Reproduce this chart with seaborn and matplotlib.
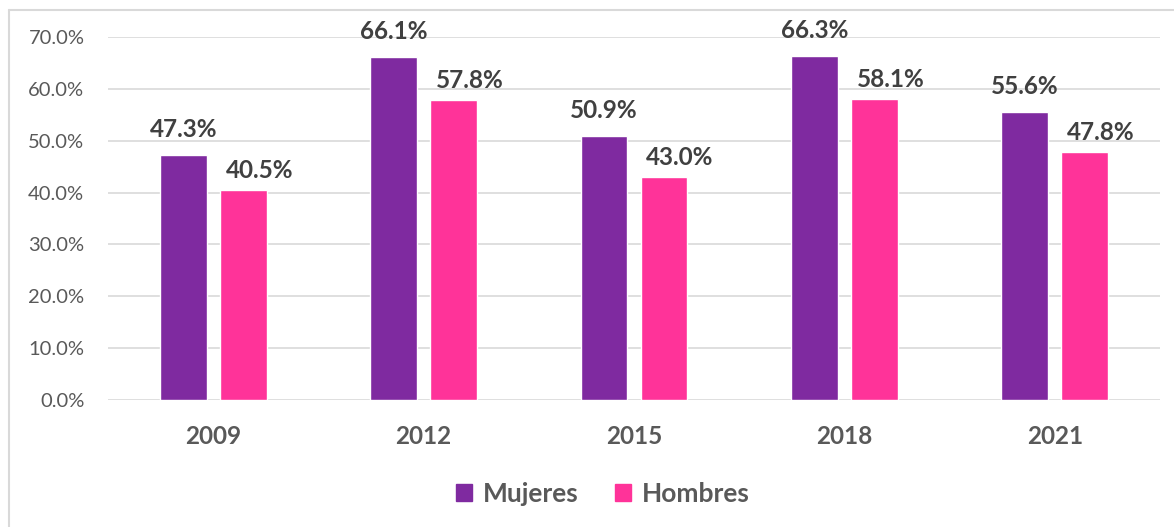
import pandas as pd
import matplotlib.pyplot as plt
import seaborn as sns
from matplotlib.lines import Line2D
from matplotlib.ticker import FuncFormatter

# Values (percent)
years = ["2009", "2012", "2015", "2018", "2021"]
mujeres = [47.3, 66.1, 50.9, 66.3, 55.6]
hombres = [40.5, 57.8, 43.0, 58.1, 47.8]
series = ["Mujeres", "Hombres"]
colors = ["#7F2AA0", "#FF3399"]

df = pd.DataFrame({
    "year": years * 2,
    "value": mujeres + hombres,
    "group": [series[0]] * len(years) + [series[1]] * len(years),
})

sns.set_style("white")
plt.rcParams["font.family"] = ["Lato", "DejaVu Sans"]

fig = plt.figure(figsize=(11.74, 5.27), dpi=100)
ax = fig.add_axes([108 / 1174, 1 - 400 / 527, 1052 / 1174, 363 / 527])

sns.barplot(data=df, x="year", y="value", hue="group", palette=colors,
            saturation=1, width=0.57, gap=0.22, ax=ax, legend=False, zorder=3)

ax.set_ylim(0, 70)
ax.set_yticks(range(0, 71, 10))
ax.yaxis.set_major_formatter(FuncFormatter(lambda v, p: f"{v:.1f}%"))
ax.grid(axis="y", color="#D9D9D9", linewidth=1.2, zorder=0)
ax.set_axisbelow(True)
for s in ax.spines.values():
    s.set_visible(False)
ax.set_xlabel("")
ax.set_ylabel("")
ax.tick_params(axis="y", length=0, pad=17, labelsize=14.5, labelcolor="#595959")
ax.tick_params(axis="x", length=0, pad=18, labelsize=17.5, labelcolor="#595959")
for t in ax.get_xticklabels():
    t.set_fontweight("bold")

# data labels
for i, cont in enumerate(ax.containers):
    dx = 0 if i == 0 else 16
    dy = 14 if i == 0 else 8
    for bar in cont:
        h = bar.get_height()
        ax.annotate(f"{h:.1f}%", (bar.get_x() + bar.get_width() / 2, h),
                    xytext=(dx, dy), textcoords="offset pixels",
                    ha="center", va="bottom", fontsize=17.5, fontweight="bold",
                    color="#404040", annotation_clip=False)

handles = [plt.Rectangle((0, 0), 1, 1, color=c) for c in colors]
fig.legend(handles, series, loc="center", bbox_to_anchor=(603 / 1174, 1 - 494 / 527),
           ncol=2, frameon=False, handlelength=0.6, handleheight=0.6,
           handletextpad=0.4, columnspacing=1.4,
           prop={"weight": "bold", "size": 19})
for t in fig.legends[0].get_texts():
    t.set_color("#595959")

# outer chart border
fig.add_artist(Line2D([9 / 1174, 9 / 1174], [0, 1 - 10 / 527], color="#D9D9D9",
                      linewidth=1.5, transform=fig.transFigure))
fig.add_artist(Line2D([9 / 1174, 1], [1 - 10 / 527, 1 - 10 / 527], color="#D9D9D9",
                      linewidth=1.5, transform=fig.transFigure))

fig.savefig("out.png", dpi=100)
